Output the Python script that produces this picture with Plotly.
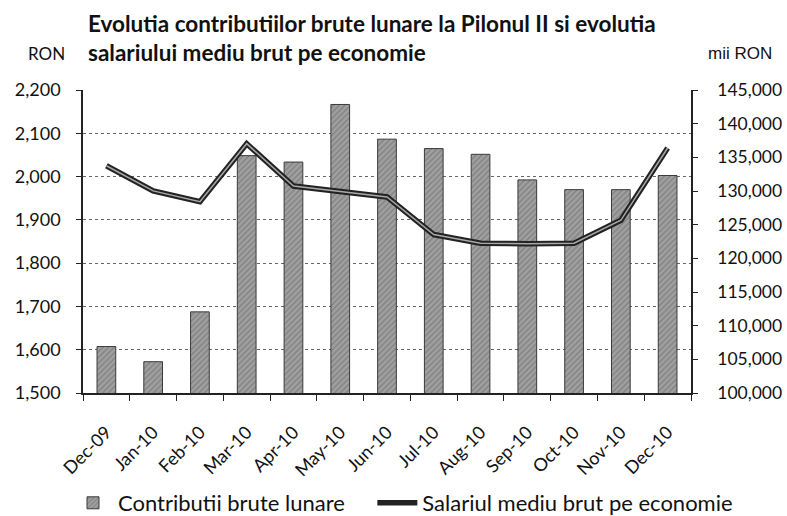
import plotly.graph_objects as go

months = ["Dec-09", "Jan-10", "Feb-10", "Mar-10", "Apr-10", "May-10", "Jun-10",
          "Jul-10", "Aug-10", "Sep-10", "Oct-10", "Nov-10", "Dec-10"]
contributii = [106900, 104650, 112050, 135250, 134300, 142850, 137700,
               136300, 135450, 131650, 130200, 130200, 132300]
salariul = [2025, 1967, 1942, 2076, 1978, 1965, 1953, 1866, 1846, 1845, 1846, 1899, 2066]
series_names = ["Contributii brute lunare", "Salariul mediu brut pe economie"]

FONT = "Lato"
L, R, T, B = 83, 96, 90, 123
PW, PH = 787 - L - R, 516 - T - B

fig = go.Figure()
fig.add_trace(go.Bar(
    x=months, y=contributii, name=series_names[0] + "\u00a0\u00a0\u00a0\u00a0", yaxis="y",
    marker=dict(color="#a0a0a0", line=dict(color="#3a3a3a", width=1),
                pattern=dict(shape="/", fgcolor="#626262", size=4, solidity=0.35)),
))
fig.add_trace(go.Scatter(
    x=months, y=salariul, name=series_names[1], yaxis="y2",
    mode="lines", line=dict(color="#222222", width=5.5),
))
fig.add_trace(go.Scatter(
    x=months, y=salariul, showlegend=False, yaxis="y2", hoverinfo="skip",
    mode="lines", line=dict(color="#a8a8a8", width=1.5),
))

axis_common = dict(showline=True, linecolor="#222", linewidth=1.5, ticks="outside",
                   ticklen=5, tickcolor="#222", zeroline=False, automargin=False)

fig.update_layout(
    width=787, height=516,
    margin=dict(l=L, r=R, t=T, b=B, autoexpand=False),
    paper_bgcolor="white", plot_bgcolor="white",
    font=dict(family=FONT, size=16, color="#111"),
    bargap=0.6,
    showlegend=True,
    legend=dict(orientation="h", xref="paper", x=(68 - L) / PW, xanchor="left",
                yref="paper", y=-(503 - (T + PH)) / PH, yanchor="middle",
                font=dict(size=22, family=FONT), traceorder="normal",
                itemwidth=40, tracegroupgap=0),
    xaxis=dict(type="category", showline=True, linecolor="#222", linewidth=1.5,
               ticks="outside", tickson="boundaries", ticklen=6, tickcolor="#222",
               tickangle=-45, tickfont=dict(size=18, family=FONT), showgrid=False,
               automargin=False, ticklabelstandoff=20),
    yaxis=dict(side="right", range=[100000, 145000], dtick=5000, tickformat=",",
               showgrid=False, ticklabelstandoff=16, tickfont=dict(size=17.5, family=FONT),
               **axis_common),
    yaxis2=dict(side="left", overlaying="y", range=[1500, 2200], dtick=100, tickformat=",",
                showgrid=True, gridcolor="#666", griddash="dot", gridwidth=1,
                ticklabelstandoff=12, tickfont=dict(size=18, family=FONT), **axis_common),
    annotations=[
        dict(text="<b>Evolutia contributiilor brute lunare la Pilonul II si evolutia<br>salariului mediu brut pe economie</b>",
             xref="paper", yref="paper", x=(86 - L) / PW, y=1 + (T - 8) / PH, xanchor="left", yanchor="top",
             align="left", showarrow=False, font=dict(size=22.5, family=FONT)),
        dict(text="RON", xref="paper", yref="paper", x=(26 - L) / PW, y=1 + (T - 54) / PH,
             xanchor="left", yanchor="middle", showarrow=False, font=dict(size=17, family=FONT)),
        dict(text="mii RON", xref="paper", yref="paper", x=(706 - L) / PW, y=1 + (T - 54) / PH,
             xanchor="left", yanchor="middle", showarrow=False,
             font=dict(size=17, family="Liberation Sans")),
    ],
)

fig.write_html("out.html", config={"displayModeBar": False},
               post_script="document.body.style.margin='0';document.body.style.overflow='hidden';")
